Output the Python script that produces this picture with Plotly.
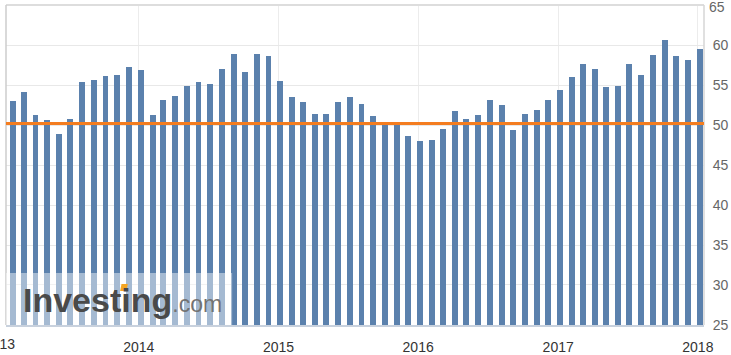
import plotly.graph_objects as go

# Monthly index values (Feb 2013 .. Jan 2018)
months = [f"{y}-{m:02d}-06" for y in range(2013, 2019) for m in range(1, 13)][1:61]
values = [
    53.0, 54.2, 51.3, 50.7, 48.9, 50.8, 55.4, 55.7, 56.2, 56.3, 57.3,
    56.9, 51.3, 53.2, 53.7, 54.9, 55.4, 55.2, 57.0, 58.9, 56.7, 58.9, 58.7,
    55.5, 53.5, 52.9, 51.4, 51.4, 52.9, 53.5, 52.7, 51.2, 50.2, 50.1, 48.7,
    48.0, 48.2, 49.5, 51.8, 50.8, 51.3, 53.2, 52.5, 49.4, 51.4, 51.9, 53.2,
    54.4, 56.0, 57.7, 57.0, 54.8, 54.9, 57.7, 56.3, 58.8, 60.7, 58.7, 58.2,
    59.5,
]
threshold = 50.2
x_range = ["2013-01-19", "2018-01-17"]
y_range = [24.99, 65.03]
y_ticks = [25, 30, 35, 40, 45, 50, 55, 60, 65]
first_year_label = "2013"

BAR = "#5B81AD"
ORANGE = "#F47D20"
DAY_MS = 86400000

fig = go.Figure()
fig.add_trace(go.Bar(
    x=months, y=values, marker=dict(color=BAR, line=dict(width=0)),
    width=[15.5 * DAY_MS] * len(values), hoverinfo="skip",
))

fig.update_layout(
    width=731, height=355,
    margin=dict(l=6, r=27, t=5, b=30),
    paper_bgcolor="white", plot_bgcolor="white",
    showlegend=False,
    font=dict(family="Liberation Sans, Arial, sans-serif", size=14, color="#333"),
    xaxis=dict(
        type="date", range=x_range, tick0="2014-01-01", dtick="M12",
        tickformat="%Y", showgrid=True, gridcolor="#ececec", gridwidth=1,
        ticks="outside", ticklen=8, tickcolor="rgba(0,0,0,0)",
        showline=True, linecolor="#c8d1dd", linewidth=2,
        tickfont=dict(size=14, color="#333"), zeroline=False, automargin=False,
    ),
    yaxis=dict(
        range=y_range, tickvals=y_ticks[:-1], side="right",
        showgrid=True, gridcolor="#e8e8e8", gridwidth=1,
        ticks="outside", ticklen=5, tickcolor="rgba(0,0,0,0)",
        tickfont=dict(size=14, color="#666"), zeroline=False,
        showline=False, automargin=False,
    ),
    bargap=0,
)

shapes = [
    # borders
    dict(type="line", xref="paper", yref="paper", x0=0, x1=1, y0=1, y1=1,
         line=dict(color="#dddddd", width=2)),
    dict(type="line", xref="paper", yref="paper", x0=0, x1=0, y0=0, y1=1,
         line=dict(color="#cccccc", width=1.5)),
    dict(type="line", xref="paper", yref="paper", x0=1, x1=1, y0=0, y1=1,
         line=dict(color="#d6d6d6", width=1.5)),
    # threshold line
    dict(type="line", xref="paper", yref="y", x0=0, x1=1, y0=threshold, y1=threshold,
         line=dict(color=ORANGE, width=3), layer="above"),
    # watermark backdrop
    dict(type="rect", xref="paper", yref="paper", x0=0, x1=0.324, y0=0, y1=0.1625,
         fillcolor="rgba(255,255,255,0.45)", line=dict(width=0), layer="above"),
]
fig.update_layout(shapes=shapes)

fig.add_annotation(
    xref="paper", yref="paper", x=0.021, y=0.078, xanchor="left", yanchor="middle",
    text="<b>Investing</b><span style='font-size:23px;color:#737373'>.com</span>",
    showarrow=False, font=dict(size=34, color="#4a4a4a", family="Liberation Sans, Arial, sans-serif"),
)
# orange accent of the logo
fig.add_shape(type="path", xref="paper", yref="paper", layer="above",
              path="M 0.1635 0.106 L 0.1725 0.106 L 0.1745 0.128 L 0.1655 0.128 Z",
              fillcolor="#F5A623", line=dict(width=0))
fig.add_annotation(
    xref="paper", yref="paper", x=-0.01, y=-0.058, xanchor="center", yanchor="middle",
    text=first_year_label, showarrow=False, font=dict(size=14, color="#333"),
)
# top y tick label
fig.add_annotation(
    xref="paper", yref="y", x=1, y=y_ticks[-1], xanchor="left", yanchor="middle",
    xshift=3, yshift=-2, text=str(y_ticks[-1]), showarrow=False,
    font=dict(size=14, color="#666"),
)

fig.write_html("out.html", config={"displayModeBar": False},
               post_script="document.body.style.margin='0';")
